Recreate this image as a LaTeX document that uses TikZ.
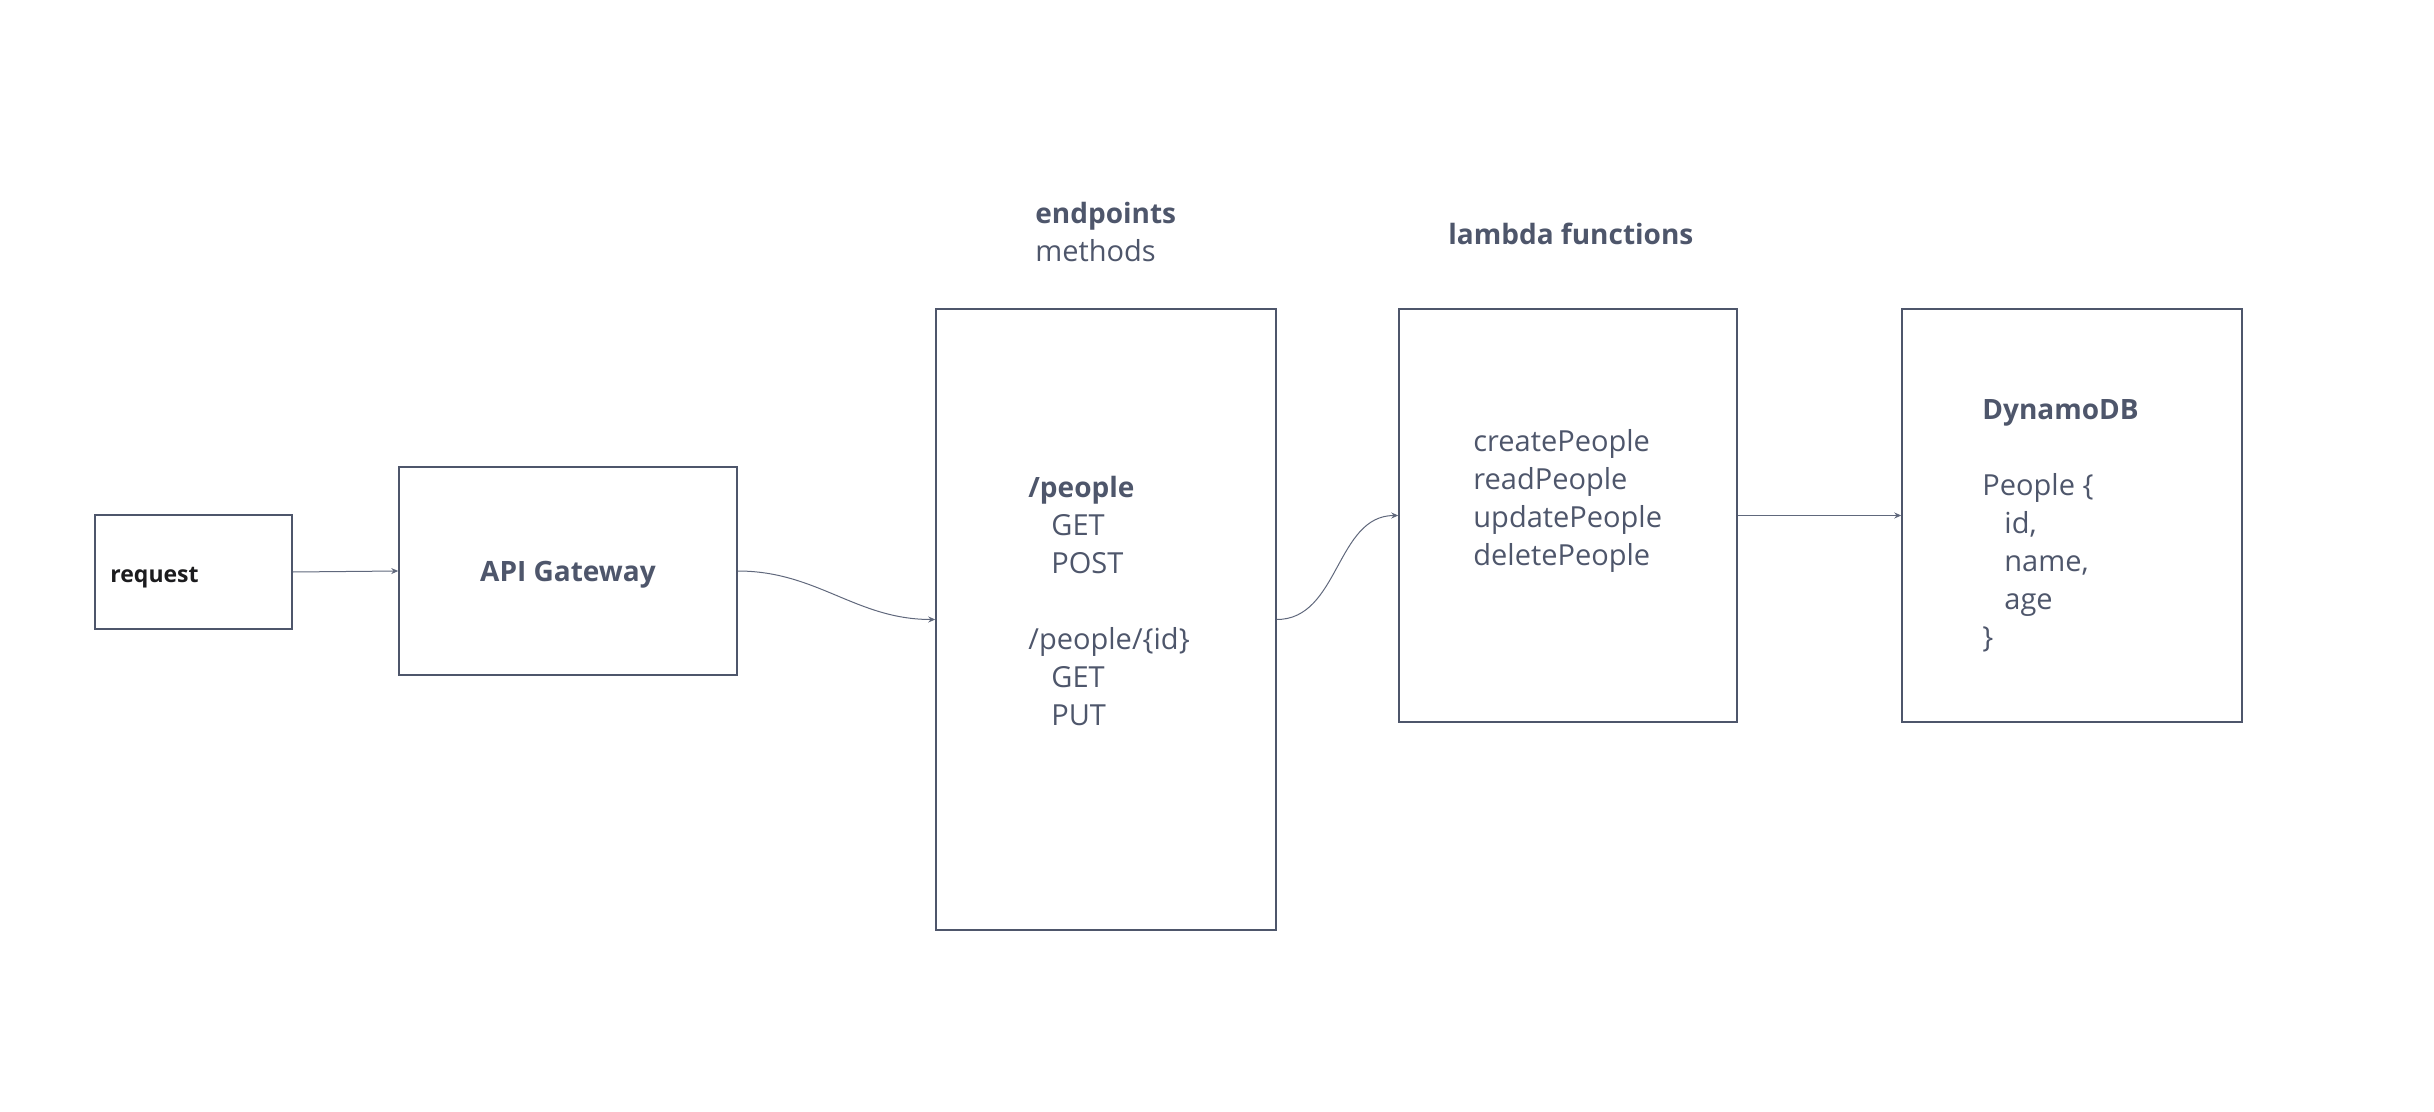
\documentclass[tikz,border=0pt]{standalone}
\usepackage{fontspec}
\setmainfont{Open Sans}
\usetikzlibrary{arrows.meta}
\definecolor{ink}{RGB}{78, 86, 107}
\definecolor{req}{RGB}{28, 28, 30}
\definecolor{wire}{RGB}{96, 104, 124}
\tikzset{
  box/.style={draw=ink, line width=0.75pt, inner sep=0pt, minimum width=#1},
  link/.style={draw=wire, line width=0.5pt, -{Stealth[length=3.5pt, width=3pt]}},
  txt/.style={text=ink, inner sep=0pt, align=left, anchor=north west, font=\fontsize{14.5}{19}\selectfont},
  head/.style={text=ink, inner sep=0pt, font=\fontsize{14}{19}\selectfont\bfseries}
}

\begin{document}
\begin{tikzpicture}[x=0.5pt, y=-0.5pt]
      \useasboundingbox (0, 0) rectangle (2434, 1112);
      \node[box=98.5pt, minimum height=57pt] (req) at (193.5, 572) {};
      \node[box=169pt, minimum height=104pt] (api) at (568, 571) {};
      \node[box=170pt, minimum height=310.5pt] (ep) at (1106, 619.5) {};
      \node[box=169pt, minimum height=206.5pt] (lam) at (1568, 515.5) {};
      \node[box=170pt, minimum height=206.5pt] (db) at (2072, 515.5) {};

      \node[anchor=west, inner sep=0pt, text=req, font=\fontsize{11.5}{14}\selectfont\bfseries] (reqtext) at (110, 578) {request};
      \node[head] (apitext) at (568, 575) {API Gateway};
      \node[txt] (eptitle) at (1035, 202) {{\bfseries\fontsize{14}{19}\selectfont endpoints}\\methods};
      \node[head, anchor=west] (lamtitle) at (1448, 234) {lambda functions};

      \node[txt] (eptext) at (1028, 476) {{\bfseries\fontsize{14}{19}\selectfont /people}\\
        \hspace*{11.5pt}GET\\
        \hspace*{11.5pt}POST\\[19pt]
        /people/\{id\}\\
        \hspace*{11.5pt}GET\\
        \hspace*{11.5pt}PUT};
      \node[txt] (lamtext) at (1473, 429) {createPeople\\readPeople\\updatePeople\\deletePeople};
      \node[txt] (dbtext) at (1982, 399) {{\bfseries\fontsize{14}{19}\selectfont DynamoDB}\\[19pt]
        People \{\\
        \hspace*{11pt}id,\\
        \hspace*{11pt}name,\\
        \hspace*{11pt}age\\
        \}};

      \draw[link] (req.east)--(api.west);
      \draw[link] (api.east) to[out=0, in=180] (ep.west);
      \draw[link] (ep.east) to[out=0, in=180] (lam.west);
      \draw[link] (lam.east)--(db.west);
    \end{tikzpicture}
\end{document}
